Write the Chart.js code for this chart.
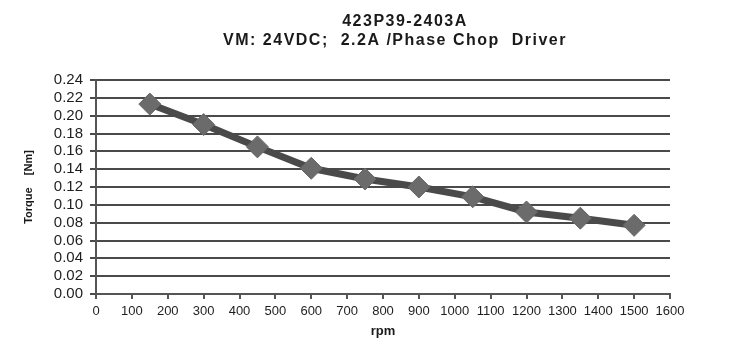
<!DOCTYPE html>
<html>
<head>
<meta charset="utf-8">
<script src="https://cdn.jsdelivr.net/npm/chart.js@4/dist/chart.umd.min.js"></script>
<style>
  html, body { margin: 0; padding: 0; background: #fff; }
  #wrap { width: 750px; height: 358px; }
</style>
</head>
<body>
<div id="wrap"><canvas id="chart"></canvas></div>
<script>
// speed / torque readings
const rpm = [150, 300, 450, 600, 750, 900, 1050, 1200, 1350, 1500];
const torque = [0.213, 0.19, 0.165, 0.141, 0.129, 0.12, 0.109, 0.092, 0.085, 0.077];
const titleLines = ['423P39-2403A', 'VM: 24VDC;  2.2A /Phase Chop  Driver'];

const FONT = 'Liberation Sans, Arial, sans-serif';
const INK = '#1e1e1e';

// two-line heading, a bit spaced out like the datasheet print
const headingPlugin = {
  id: 'heading',
  afterDraw(chart) {
    const ctx = chart.ctx;
    ctx.save();
    ctx.fillStyle = '#1a1a1a';
    ctx.font = 'bold 16px ' + FONT;
    ctx.textAlign = 'center';
    ctx.textBaseline = 'middle';
    ctx.letterSpacing = '1.5px';
    ctx.fillText(titleLines[0], 405, 22);
    ctx.fillText(titleLines[1], 395, 41);
    ctx.restore();
  }
};

new Chart(document.getElementById('chart'), {
  type: 'scatter',
  data: {
    datasets: [{
      data: rpm.map((x, i) => ({ x: x, y: torque[i] })),
      showLine: true,
      borderColor: '#4a4a4a',
      borderWidth: 7,
      pointStyle: 'rectRot',
      pointRadius: 11,
      pointBackgroundColor: '#6b6b6b',
      pointBorderColor: '#666',
      pointBorderWidth: 1
    }]
  },
  options: {
    responsive: true,
    maintainAspectRatio: false,
    animation: false,
    layout: { padding: { left: 0, right: 80, top: 80, bottom: 17 } },
    plugins: {
      legend: { display: false },
      tooltip: { enabled: false },
      title: { display: false }
    },
    scales: {
      x: {
        type: 'linear',
        min: 0, max: 1600,
        afterFit: s => { s.height = 47; },
        ticks: {
          stepSize: 100, color: INK, font: { family: FONT, size: 13 }, maxRotation: 0, padding: 5,
          autoSkip: false, callback: v => String(v)
        },
        grid: { drawOnChartArea: false, drawTicks: true, tickLength: 5, color: '#555', lineWidth: 2 },
        border: { color: '#555', width: 2 },
        title: { display: true, text: 'rpm', color: '#1a1a1a', font: { family: FONT, size: 13, weight: 'bold' }, padding: { top: 0, bottom: 2 } }
      },
      y: {
        min: 0, max: 0.24,
        afterFit: s => { s.width = 96; },
        ticks: {
          stepSize: 0.02, color: INK, font: { family: FONT, size: 15 }, padding: 7,
          autoSkip: false, callback: v => v.toFixed(2)
        },
        grid: { color: '#4a4a4a', lineWidth: 2, tickLength: 6 },
        border: { color: '#555', width: 2 },
        title: { display: true, text: 'Torque    [Nm]', color: '#1a1a1a', font: { family: FONT, size: 11, weight: 'bold' }, padding: { top: 22, bottom: 0 } }
      }
    }
  },
  plugins: [headingPlugin]
});
</script>
</body>
</html>
